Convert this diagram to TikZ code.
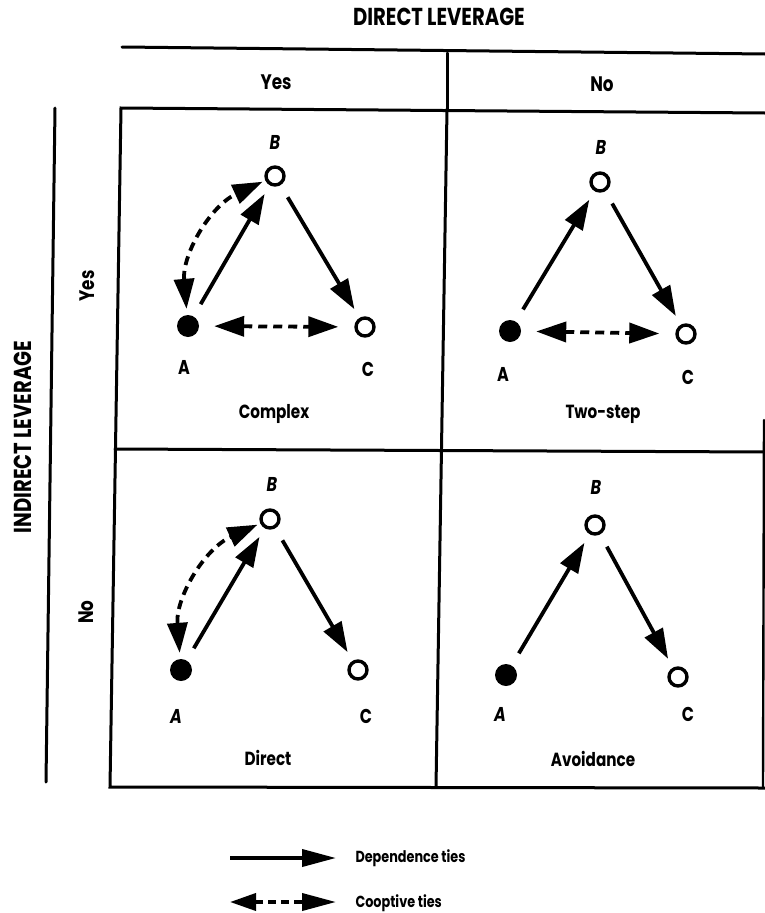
\documentclass[tikz,border=0pt]{standalone}
\usepackage{fontspec}
\setmainfont{Poppins}[FakeStretch=0.8]
\usetikzlibrary{arrows.meta}
\begin{document}
\begin{tikzpicture}[x=1pt,y=-1pt,
  frame/.style={line width=3pt,line cap=round},
  dep/.style={line width=3.8pt,-{Triangle[length=30pt,width=20pt]},shorten <=14pt,shorten >=10pt},
  coop/.style={line width=3.8pt,dash pattern=on 9pt off 6pt,{Triangle[length=30pt,width=20pt]}-{Triangle[length=30pt,width=20pt]}},
  fullnode/.style={circle,fill=black,minimum size=22pt,inner sep=0pt},
  opennode/.style={circle,draw=black,line width=3.4pt,minimum size=18pt,inner sep=0pt},
  lab/.style={font=\fontsize{20}{22}\selectfont\bfseries},
  ilab/.style={font=\fontsize{20}{22}\selectfont\bfseries\itshape},
  hdr/.style={font=\fontsize{24.5}{26}\selectfont\bfseries},
  yn/.style={font=\fontsize{21}{23}\selectfont\bfseries},
  celltitle/.style={font=\fontsize{19}{21}\selectfont\bfseries},
  legtext/.style={font=\fontsize{16}{18}\selectfont\bfseries,anchor=west}]
\useasboundingbox (0,0) rectangle (765,913);
% headers
\node[hdr] (dl) at (439,17) {DIRECT LEVERAGE};
\node[hdr,rotate=90] (il) at (23,437) {INDIRECT LEVERAGE};
\node[yn] (hy) at (276,82) {Yes};
\node[yn] (hn) at (602,84) {No};
\node[yn,rotate=90] (vy) at (87,286) {Yes};
\node[yn,rotate=90] (vn) at (86,612) {No};
% frame lines
\draw[frame] (122,47) -- (765,54);
\draw[frame] (447,53) -- (447,109);
\draw[frame] (55,108) -- (46,782);
\draw[frame] (765,113) -- (121,108) -- (110,787) -- (765,788);
\draw[frame] (115,449) -- (765,452);
\draw[frame] (447,109) -- (436,787);
\draw[frame,line width=2.4pt] (764,420) -- (763,787);
% Cell 1: Complex
\node[fullnode] (A1) at (188,326) {};
\node[opennode] (B1) at (275,176) {};
\node[opennode] (C1) at (365,327) {};
\node[ilab] (lb1) at (275,142) {B};
\node[lab] (la1) at (184,367) {A};
\node[lab] (lc1) at (368,369) {C};
\node[celltitle] (t1) at (274,414) {Complex};
\draw[dep] (A1) -- (B1);
\draw[dep] (B1) -- (C1);
\draw[coop,shorten <=6pt,shorten >=3pt] (A1) to[bend left=35] (B1);
\draw[coop,shorten <=15pt,shorten >=16pt] (A1) -- (C1);
% Cell 2: Two-step
\node[fullnode] (A2) at (510,331) {};
\node[opennode] (B2) at (600,182) {};
\node[opennode] (C2) at (686,334) {};
\node[ilab] (lb2) at (601,147) {B};
\node[lab] (la2) at (503,374) {A};
\node[lab] (lc2) at (688,377) {C};
\node[celltitle] (t2) at (603,414) {Two-step};
\draw[dep] (A2) -- (B2);
\draw[dep] (B2) -- (C2);
\draw[coop,shorten <=15pt,shorten >=16pt] (A2) -- (C2);
% Cell 3: Direct
\node[fullnode] (A3) at (181,670) {};
\node[opennode] (B3) at (270,519) {};
\node[opennode] (C3) at (358,670) {};
\node[ilab] (lb3) at (272,484) {B};
\node[ilab] (la3) at (176,716) {A};
\node[lab] (lc3) at (366,716) {C};
\node[celltitle] (t3) at (268,758) {Direct};
\draw[dep] (A3) -- (B3);
\draw[dep] (B3) -- (C3);
\draw[coop,shorten <=6pt,shorten >=3pt] (A3) to[bend left=35] (B3);
% Cell 4: Avoidance
\node[fullnode] (A4) at (506,675) {};
\node[opennode] (B4) at (595,525) {};
\node[opennode] (C4) at (678,677) {};
\node[ilab] (lb4) at (596,487) {B};
\node[ilab] (la4) at (500,714) {A};
\node[lab] (lc4) at (688,714) {C};
\node[celltitle] (t4) at (593,759) {Avoidance};
\draw[dep] (A4) -- (B4);
\draw[dep] (B4) -- (C4);
% legend
\coordinate (d0) at (230,858);
\coordinate (d1) at (336,858);
\coordinate (c0) at (230,902);
\coordinate (c1) at (336,902);
\draw[line width=3.8pt,-{Triangle[length=34pt,width=17pt]}] (d0) -- (d1);
\draw[line width=3.8pt,dash pattern=on 8pt off 5pt,{Triangle[length=26pt,width=17pt]}-{Triangle[length=34pt,width=17pt]}] (c0) -- (c1);
\node[legtext] (ld) at (352,858) {Dependence ties};
\node[legtext] (lc) at (352,903) {Cooptive ties};
\end{tikzpicture}
\end{document}
